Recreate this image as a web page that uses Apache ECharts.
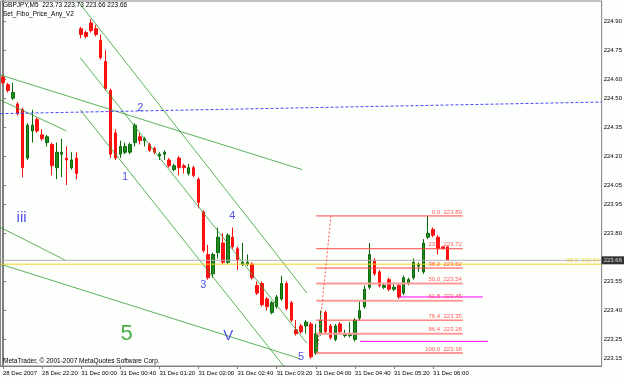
<!DOCTYPE html>
<html>
<head>
<meta charset="utf-8">
<script src="https://cdn.jsdelivr.net/npm/echarts@6/dist/echarts.min.js"></script>
<style>
  html, body { margin: 0; padding: 0; background: #fdfffd; }
  #chart { width: 625px; height: 380px; }
</style>
</head>
<body>
<div id="chart"></div>
<script>
// GBPJPY M5 bars, 28 Dec 2007 21:40 .. 31 Dec 2007 06:15
const xTickLabels = ['28 Dec 2007', '28 Dec 22:20', '31 Dec 00:00', '31 Dec 00:40', '31 Dec 01:20', '31 Dec 02:00',
  '31 Dec 02:40', '31 Dec 03:20', '31 Dec 04:00', '31 Dec 04:40', '31 Dec 05:20', '31 Dec 06:00'];
const BARS_PER_LABEL = 8;
const SLOTS = 123; // visible bar slots incl. empty space on the right

const open = [224.61, 224.57, 224.50, 224.47, 224.44, 224.19, 224.33, 224.39, 224.31, 224.27, 224.26, 224.14, 224.21, 224.19, 224.14, 224.19,
  224.86, 224.84, 224.89, 224.86, 224.80, 224.69, 224.54, 224.32, 224.21, 224.22, 224.22, 224.27, 224.30, 224.28, 224.26, 224.24,
  224.20, 224.21, 224.18, 224.13, 224.19, 224.15, 224.11, 224.14, 224.08, 223.91, 223.69, 223.59, 223.70, 223.75, 223.65, 223.78,
  223.72, 223.64, 223.64, 223.64, 223.53, 223.54, 223.46, 223.39, 223.42, 223.46, 223.54, 223.44, 223.30, 223.32, 223.32, 223.33,
  223.18, 223.28, 223.39, 223.32, 223.25, 223.33, 223.27, 223.27, 223.25, 223.36, 223.42, 223.52, 223.66, 223.60, 223.52, 223.56,
  223.51, 223.53, 223.49, 223.54, 223.57, 223.63, 223.60, 223.78, 223.82, 223.78, 223.73, 223.73];
const close = [224.58, 224.54, 224.53, 224.42, 224.14, 224.36, 224.36, 224.33, 224.29, 224.30, 224.15, 224.22, 224.22, 224.18, 224.18, 224.11,
  224.83, 224.82, 224.85, 224.83, 224.71, 224.55, 224.21, 224.19, 224.25, 224.25, 224.26, 224.36, 224.28, 224.29, 224.23, 224.22,
  224.21, 224.22, 224.15, 224.15, 224.14, 224.14, 224.14, 224.10, 223.96, 223.71, 223.57, 223.69, 223.78, 223.65, 223.79, 223.73,
  223.66, 223.65, 223.65, 223.57, 223.49, 223.43, 223.42, 223.44, 223.47, 223.54, 223.41, 223.35, 223.28, 223.29, 223.34, 223.16,
  223.28, 223.35, 223.29, 223.26, 223.32, 223.29, 223.28, 223.28, 223.35, 223.40, 223.51, 223.69, 223.59, 223.53, 223.53, 223.51,
  223.52, 223.47, 223.57, 223.56, 223.65, 223.64, 223.75, 223.80, 223.79, 223.72, 223.72, 223.66];
const low = [224.57, 224.53, 224.49, 224.41, 224.09, 224.18, 224.27, 224.32, 224.28, 224.25, 224.10, 224.08, 224.09, 224.05, 224.13, 224.08,
  224.81, 224.81, 224.84, 224.82, 224.70, 224.54, 224.19, 224.18, 224.19, 224.21, 224.21, 224.25, 224.26, 224.25, 224.22, 224.21,
  224.18, 224.18, 224.14, 224.12, 224.10, 224.11, 224.10, 224.09, 223.93, 223.70, 223.56, 223.57, 223.67, 223.64, 223.64, 223.72,
  223.61, 223.63, 223.63, 223.56, 223.48, 223.42, 223.40, 223.38, 223.41, 223.45, 223.40, 223.34, 223.27, 223.28, 223.28, 223.15,
  223.17, 223.27, 223.28, 223.25, 223.24, 223.28, 223.26, 223.26, 223.24, 223.35, 223.41, 223.51, 223.58, 223.52, 223.51, 223.50,
  223.50, 223.46, 223.48, 223.53, 223.56, 223.60, 223.59, 223.77, 223.78, 223.69, 223.72, 223.66];
const high = [224.62, 224.58, 224.58, 224.48, 224.45, 224.37, 224.44, 224.40, 224.34, 224.31, 224.27, 224.27, 224.29, 224.25, 224.22, 224.22,
  224.87, 224.85, 224.91, 224.88, 224.83, 224.75, 224.55, 224.34, 224.28, 224.27, 224.27, 224.37, 224.32, 224.30, 224.27, 224.25,
  224.22, 224.23, 224.19, 224.16, 224.20, 224.16, 224.16, 224.15, 224.09, 223.92, 223.74, 223.70, 223.83, 223.80, 223.80, 223.83,
  223.73, 223.75, 223.69, 223.65, 223.55, 223.55, 223.47, 223.45, 223.48, 223.58, 223.55, 223.45, 223.35, 223.33, 223.35, 223.34,
  223.33, 223.40, 223.40, 223.33, 223.33, 223.34, 223.30, 223.34, 223.36, 223.45, 223.53, 223.75, 223.67, 223.61, 223.54, 223.57,
  223.54, 223.54, 223.58, 223.57, 223.67, 223.65, 223.77, 223.89, 223.83, 223.79, 223.73, 223.73];

const yTicks = [224.90, 224.75, 224.60, 224.50, 224.35, 224.20, 224.05, 223.95, 223.80, 223.55, 223.40, 223.25, 223.15];
const bidPrice = 223.66;

// fibo from Set_Fibo_Price_Any_V2
const fibLevels = ['0.0', '23.6', '38.2', '50.0', '61.8', '76.4', '86.4', '100.0'];
const fibPrices = [223.89, 223.72, 223.62, 223.54, 223.45, 223.35, 223.28, 223.18];
const fibSpan = [64.1, 94.1];           // bar index from / to
const fibDiagonal = [64.3, 223.18, 67.1, 223.89];
const bigFibLevel = ['38.2', 223.64];    // yellow level from the bigger fibo

// drawn objects: [barFrom, priceFrom, barTo, priceTo]
const channelLines = [
  [-0.5, 224.62, 61.2, 224.13],
  [-0.5, 224.49, 13.0, 224.33],
  [-0.5, 223.83, 12.8, 223.66],
  [-0.5, 223.64, 60.8, 223.15],
  [15.4, 225.00, 62.2, 223.49],
  [15.8, 224.71, 62.2, 223.23],
  [15.8, 224.44, 57.5, 223.11]
];
const waveLine = [-0.5, 224.42, 122.5, 224.48];
const magentaLines = [
  [81.2, 223.47, 98.2, 223.47],
  [73.1, 223.24, 99.2, 223.24]
];

// wave counts: [bar, price, text]
const waveDigits = [[25.0, 224.09, '1'], [28.1, 224.45, '2'], [41.0, 223.53, '3'], [46.9, 223.89, '4'], [61.0, 223.16, '5']];
const waveRoman = [[3.8, 223.88, 'iii'], [46.1, 223.27, 'V']];
const waveBig = [[25.3, 223.28, '5']];

const FONT = 'Liberation Sans';
const categories = [];
for (let i = 0; i < SLOTS; i++) {
  categories.push(i % BARS_PER_LABEL === 0 && xTickLabels[i / BARS_PER_LABEL] ? xTickLabels[i / BARS_PER_LABEL] : '');
}
const candles = open.map((o, i) => [o, close[i], low[i], high[i]]);

const seg = (l, color, extra) => Object.assign({
  type: 'line', xAxisIndex: 1, yAxisIndex: 0, silent: true, symbol: 'none', z: 3,
  data: [[l[0], l[1]], [l[2], l[3]]],
  lineStyle: { color: color, width: 1 }
}, extra || {});

const textSeries = (marks, label) => ({
  type: 'scatter', xAxisIndex: 1, yAxisIndex: 0, silent: true, symbolSize: 0, clip: false, z: 5,
  data: marks.map(m => ({ value: [m[0], m[1]], label: { formatter: m[2] } })),
  label: Object.assign({ show: true, position: 'inside', fontFamily: FONT }, label)
});

const series = [
  {
    type: 'candlestick', data: candles, barWidth: 3, z: 2,
    itemStyle: { color: '#218a21', color0: '#ff1010', borderColor: '#0a6a0a', borderColor0: '#ff1010', borderWidth: 1 }
  }
];
channelLines.forEach(l => series.push(seg(l, 'rgba(40,150,40,0.75)')));
series.push(seg(waveLine, '#4646ff', { lineStyle: { color: '#4646ff', width: 1, type: [3, 2] } }));
series.push(seg([-0.5, bidPrice, 122.5, bidPrice], '#b4b4b4'));
series.push(seg([-0.5, bigFibLevel[1], 122.5, bigFibLevel[1]], '#f2d21e'));
fibPrices.forEach((p, i) => {
  const pale = i === 3 || i === 4 || i === 6 || i === 7;
  series.push(seg([fibSpan[0], p, fibSpan[1], p], pale ? '#ff9a9a' : '#ff4545', pale ? { lineStyle: { color: '#ff9a9a', width: 2 } } : {}));
});
magentaLines.forEach(l => series.push(seg(l, '#ff00ff')));
series.push(seg(fibDiagonal, '#ff5050', { lineStyle: { color: '#ff5050', width: 1, type: [2, 2] } }));

series.push(textSeries(fibLevels.map((t, i) => [fibSpan[1], fibPrices[i], t + '  ' + fibPrices[i].toFixed(2)]),
  { position: [0, 0], align: 'right', verticalAlign: 'bottom', fontSize: 6, color: '#ff3030', padding: [0, 1, 1, 0] }));
series.push(textSeries([[122.3, bigFibLevel[1], bigFibLevel[0] + '  ' + bigFibLevel[1].toFixed(2)]],
  { position: [0, 0], align: 'right', verticalAlign: 'bottom', fontSize: 6, color: '#f0d020', padding: [0, 1, 1, 0] }));
series.push(textSeries([[122.5, bidPrice, bidPrice.toFixed(2)]],
  { position: [0, 0], align: 'left', verticalAlign: 'middle', fontSize: 6, color: '#fff', backgroundColor: '#000', padding: [1, 2, 1, 2] }));
series.push(textSeries(waveDigits, { fontSize: 11, color: '#2424e0' }));
series.push(textSeries(waveRoman, { fontSize: 15, color: '#2424e0' }));
series.push(textSeries(waveBig, { fontSize: 22, color: '#1c9a1c' }));

const chart = echarts.init(document.getElementById('chart'));
chart.setOption({
  animation: false,
  backgroundColor: '#fdfffd',
  textStyle: { fontFamily: FONT },
  title: [
    { text: 'GBPJPY,M5  223.73 223.73 223.66 223.66', left: 3, top: 2, padding: 0,
      textStyle: { fontSize: 6.5, fontWeight: 'normal', color: '#000', fontFamily: FONT } },
    { text: 'Set_Fibo_Price_Any_V2', left: 3, top: 11, padding: 0,
      textStyle: { fontSize: 6.5, fontWeight: 'normal', color: '#000', fontFamily: FONT } },
    { text: 'MetaTrader, © 2001-2007 MetaQuotes Software Corp.', left: 3, top: 358, padding: 0,
      textStyle: { fontSize: 6.5, fontWeight: 'normal', color: '#000', fontFamily: FONT } }
  ],
  grid: { left: 0, right: 23, top: 1, bottom: 14, show: true, borderColor: '#808080', borderWidth: 1, backgroundColor: '#fdfffd' },
  xAxis: [
    {
      type: 'category', data: categories, boundaryGap: true,
      axisLine: { show: true, lineStyle: { color: '#808080' } },
      axisTick: { show: true, alignWithLabel: true, length: 3, interval: (i, v) => v !== '', lineStyle: { color: '#808080' } },
      axisLabel: { interval: (i, v) => v !== '', align: 'left', fontSize: 6, margin: 4, color: '#000', fontFamily: FONT },
      splitLine: { show: false }
    },
    { type: 'value', min: -0.5, max: SLOTS - 0.5, show: false }
  ],
  yAxis: {
    type: 'value', position: 'right', min: 223.1124, max: 225.0036, scale: true,
    axisLine: { show: true, lineStyle: { color: '#808080', width: 2 } },
    axisTick: { show: true, length: 3, customValues: yTicks, lineStyle: { color: '#808080' } },
    axisLabel: { customValues: yTicks, formatter: v => v.toFixed(2), fontSize: 6, margin: 2, color: '#000', fontFamily: FONT },
    splitLine: { show: false }
  },
  series: series
});
</script>
</body>
</html>
